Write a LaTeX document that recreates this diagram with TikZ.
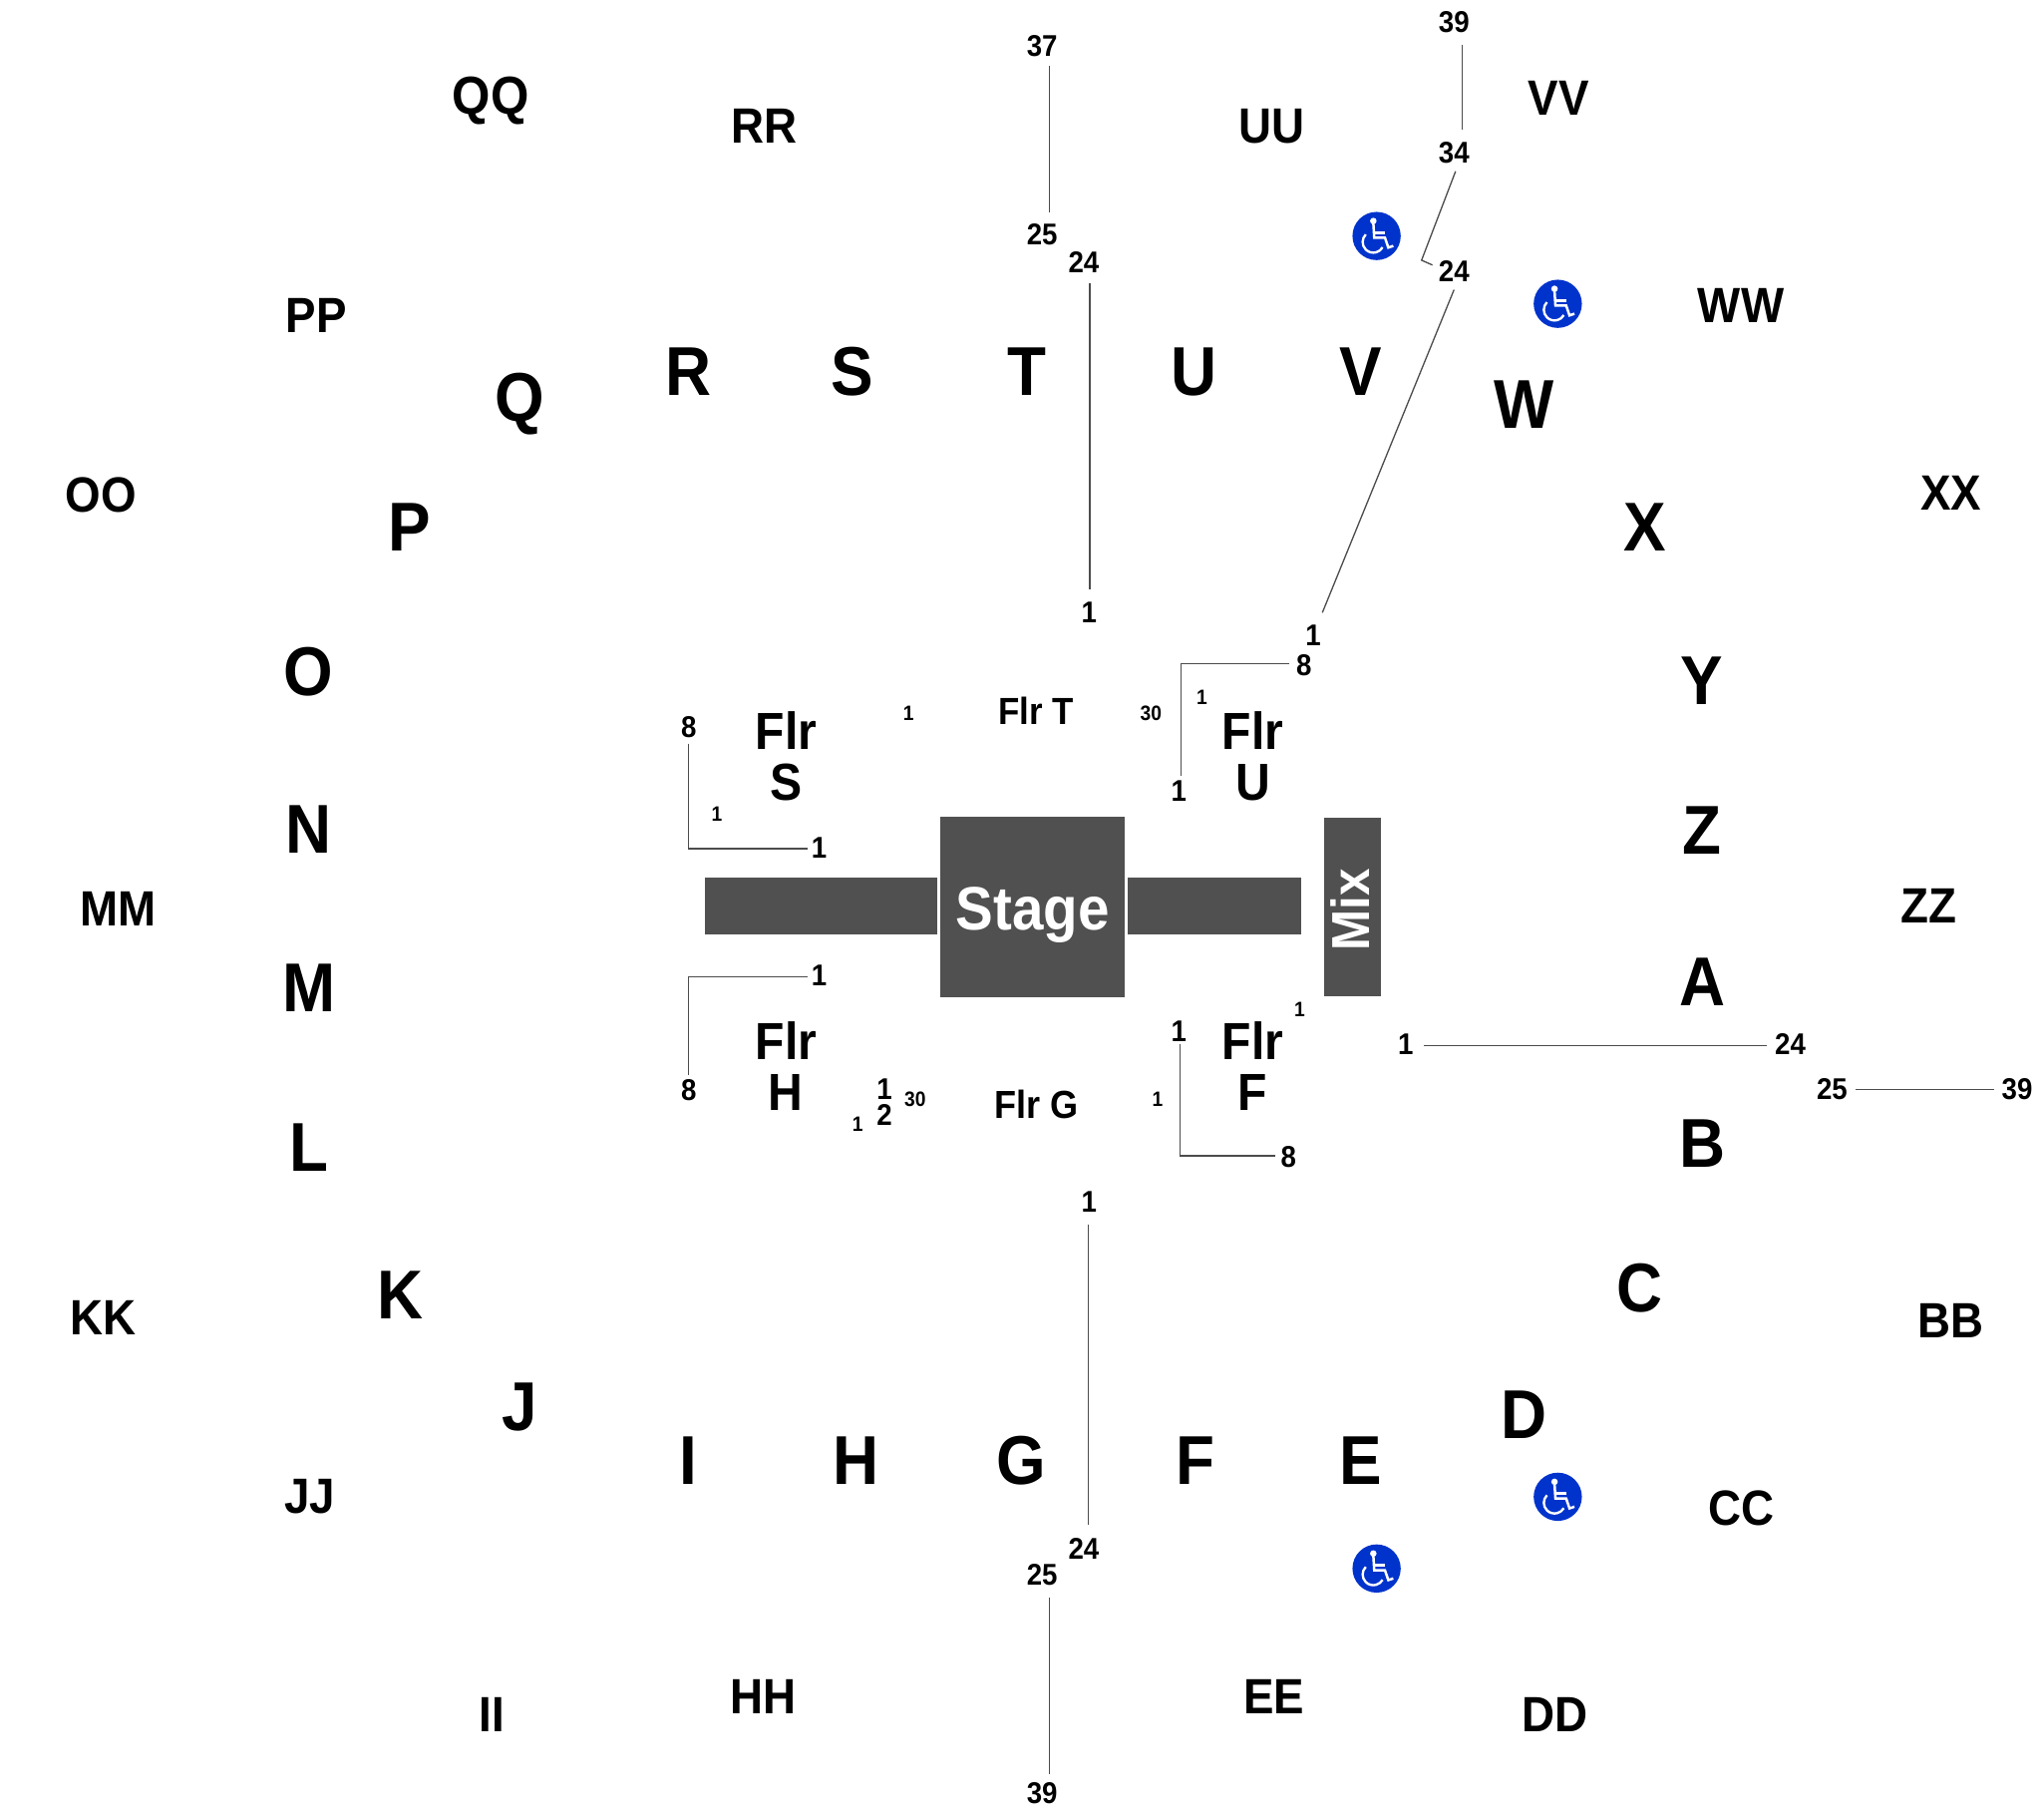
\documentclass[tikz,border=0pt]{standalone}
\usepackage{fontspec}
\setmainfont[FakeStretch=0.92]{Liberation Sans}
\usepackage{xcolor}
\usepackage{tikz}
\definecolor{stagegray}{HTML}{505050}
\definecolor{accessblue}{HTML}{0033CC}
\tikzstyle{row} = [inner sep=0pt, xshift=.8pt, font=\fontsize{53}{53}\selectfont\bfseries]
\tikzstyle{section} = [inner sep=0pt, xshift=.5pt, font=\fontsize{38}{38}\selectfont\bfseries]
\tikzstyle{floorbig} = [inner sep=0pt, align=center, font=\fontsize{40}{39}\selectfont\bfseries]
\tikzstyle{floorsmall} = [inner sep=0pt, font=\fontsize{29}{29}\selectfont\bfseries]
\tikzstyle{seat} = [inner sep=0pt, xshift=.4pt, font=\fontsize{23}{23}\selectfont\bfseries]
\tikzstyle{seatsmall} = [inner sep=0pt, font=\fontsize{16}{16}\selectfont\bfseries]
\tikzstyle{block} = [inner sep=0pt, fill=stagegray, text=white, font=\fontsize{47}{47}\selectfont\bfseries]
\tikzstyle{access} = [circle, inner sep=0pt, minimum size=37pt, fill=accessblue]
\tikzstyle{line} = [draw=black!70, line width=1pt]
\tikzset{wheelchair/.pic={
	\fill [white] (-2.5,-11.5) circle (2.5pt);
	\draw [white, line width=1.9pt] (-2.5,-10) -- (-1.8,1.3) -- (6.4,1.3) -- (9,8.9) -- (12.8,7.6);
	\draw [white, line width=1.9pt] (-1.8,-2.5) -- (6.4,-2.5);
	\draw [white, line width=1.8pt] (-8.3,-1.2) arc [start angle=135, end angle=330, radius=8.2pt];
}}

\begin{document}
\begin{tikzpicture}[x=1pt, y=-1pt]
	\useasboundingbox (0,0) rectangle (1568,1390.5);

	% stage
	\node (bar1) [block, minimum width=178pt, minimum height=44pt] at (630,695) {};
	\node (bar2) [block, minimum width=133pt, minimum height=44pt] at (931.5,695) {};
	\node (stage) [block, minimum width=142pt, minimum height=138pt] at (792,695.5) {\raisebox{-17.5pt}[0pt][0pt]{Stage}};
	\node (mix) [block, minimum width=43.5pt, minimum height=137pt, font=\fontsize{41}{41}\selectfont\bfseries] at (1037.7,695.5) {\kern-2pt\raisebox{-33.5pt}[0pt][0pt]{\rotatebox{90}{Mix}}\kern2pt};

	% rows
	\node (rowR) [row] at (527,285) {R};
	\node (rowS) [row] at (653,285) {S};
	\node (rowT) [row] at (787,285) {T};
	\node (rowU) [row] at (915,285) {U};
	\node (rowV) [row] at (1043,285) {V};
	\node (rowQ) [row] at (398,310) {Q};
	\node (rowW) [row] at (1168,310) {W};
	\node (rowP) [row] at (313,404) {P};
	\node (rowX) [row] at (1261,404) {X};
	\node (rowO) [row] at (236,515) {O};
	\node (rowY) [row] at (1305,522) {Y};
	\node (rowN) [row] at (236,636) {N};
	\node (rowZ) [row] at (1305,637) {Z};
	\node (rowM) [row] at (236,758) {M};
	\node (rowA) [row] at (1305,753) {A};
	\node (rowL) [row] at (236,880) {L};
	\node (rowB) [row] at (1305,877) {B};
	\node (rowK) [row] at (306,993) {K};
	\node (rowC) [row] at (1257,988) {C};
	\node (rowJ) [row] at (398,1079) {J};
	\node (rowD) [row] at (1168,1085) {D};
	\node (rowI) [row] at (527,1120) {I};
	\node (rowH) [row] at (656,1120) {H};
	\node (rowG) [row] at (783,1120) {G};
	\node (rowF) [row] at (916,1120) {F};
	\node (rowE) [row] at (1043,1120) {E};

	% outer sections
	\node (secQQ) [section, font=\fontsize{41}{41}\selectfont\bfseries] at (376,77) {QQ};
	\node (secRR) [section] at (586,97) {RR};
	\node (secUU) [section] at (975,97) {UU};
	\node (secVV) [section] at (1195,75) {VV};
	\node (secPP) [section] at (242,242) {PP};
	\node (secWW) [section] at (1335,234) {WW};
	\node (secOO) [section] at (77,380) {OO};
	\node (secXX) [section] at (1496,378) {XX};
	\node (secMM) [section] at (90,697) {MM};
	\node (secZZ) [section] at (1479,695) {ZZ};
	\node (secKK) [section] at (79,1011) {KK};
	\node (secBB) [section] at (1496,1013) {BB};
	\node (secJJ) [section] at (237,1148) {JJ};
	\node (secCC) [section] at (1335,1157) {CC};
	\node (secII) [section] at (377,1315) {II};
	\node (secHH) [section] at (585,1301) {HH};
	\node (secEE) [section] at (977,1301) {EE};
	\node (secDD) [section] at (1192,1315) {DD};

	% floor
	\node (flrS) [floorbig] at (603,580) {Flr\\S};
	\node (flrU) [floorbig] at (961,580) {Flr\\U};
	\node (flrH) [floorbig] at (603,818) {Flr\\H};
	\node (flrF) [floorbig] at (961,818) {Flr\\F};
	\node (flrT) [floorsmall] at (795,545.5) {Flr T};
	\node (flrG) [floorsmall, font=\fontsize{30}{30}\selectfont\bfseries] at (795,847) {Flr G};

	% seat numbers
	\node (s37) [seat] at (799,35) {37};
	\node (s25a) [seat] at (799,180) {25};
	\node (s24a) [seat] at (831,201) {24};
	\node (s1a) [seat] at (835,470) {1};
	\node (s39a) [seat] at (1115,17) {39};
	\node (s34) [seat] at (1115,117) {34};
	\node (s24b) [seat] at (1115,208) {24};
	\node (s1b) [seat] at (1007,487) {1};
	\node (s8a) [seat] at (1000,510) {8};
	\node (s1c) [seat] at (904,607) {1};
	\node (s8b) [seat] at (528,558) {8};
	\node (s1d) [seat] at (628,650) {1};
	\node (s1e) [seat] at (628,748) {1};
	\node (s8c) [seat] at (528,836) {8};
	\node (s1f) [seat] at (678,835) {1};
	\node (s2f) [seat] at (678,855) {2};
	\node (s1g) [seat] at (904,791) {1};
	\node (s8d) [seat] at (988,887) {8};
	\node (s1h) [seat] at (835,922) {1};
	\node (s1i) [seat] at (1078,801) {1};
	\node (s24c) [seat] at (1373,801) {24};
	\node (s25b) [seat] at (1405,835) {25};
	\node (s39b) [seat] at (1547,835) {39};
	\node (s24d) [seat] at (831,1188) {24};
	\node (s25c) [seat] at (799,1208) {25};
	\node (s39c) [seat] at (799,1375) {39};

	\node (t1a) [seatsmall] at (922,535) {1};
	\node (t30a) [seatsmall] at (883,547) {30};
	\node (t1b) [seatsmall] at (697,547) {1};
	\node (t1c) [seatsmall] at (550,624) {1};
	\node (t30b) [seatsmall] at (702,843) {30};
	\node (t1d) [seatsmall] at (658,862) {1};
	\node (t1e) [seatsmall] at (888,843) {1};
	\node (t1f) [seatsmall] at (997,774) {1};

	% bends
	\coordinate (bend34) at (1090.5,199.6);
	\coordinate (bendU) at (905.9,509);
	\coordinate (bendS) at (528.4,651);
	\coordinate (bendH) at (528.4,749);
	\coordinate (bendF) at (905.4,886.5);

	\draw [line] ([xshift=5.6pt,yshift=-7pt]s37.south) -- ([xshift=5.6pt,yshift=9pt]s25a.north);
	\draw [line] ([xshift=4.6pt,yshift=-8pt]s24a.south) -- ([xshift=.6pt,yshift=10pt]s1a.north);
	\draw [line] ([xshift=6.1pt,yshift=-9pt]s39a.south) -- ([xshift=6.1pt,yshift=9pt]s34.north);
	\draw [line] ([xshift=1.2pt,yshift=-6pt]s34.south) -- (bend34) -- ([xshift=-4.6pt,yshift=-3.5pt]s24b.north west);
	\draw [line] ([yshift=-6pt]s24b.south) -- ([xshift=7pt,yshift=9pt]s1b.north);
	\draw [line] ([xshift=-5pt,yshift=1pt]s8a.west) -- (bendU) -- ([xshift=1.5pt,yshift=4pt]s1c.north);
	\draw [line] ([yshift=-4pt]s8b.south) -- (bendS) -- ([xshift=-3pt,yshift=-1pt]s1d.west);
	\draw [line] ([xshift=-3pt,yshift=-1pt]s1e.west) -- (bendH) -- ([yshift=3pt]s8c.north);
	\draw [line] ([xshift=1pt,yshift=-2pt]s1g.south) -- (bendF) -- ([xshift=-4pt,yshift=.5pt]s8d.west);
	\draw [line] ([xshift=8pt,yshift=-1pt]s1i.east) -- ([xshift=-6pt,yshift=-1pt]s24c.west);
	\draw [line] ([xshift=6pt,yshift=-.5pt]s25b.east) -- ([xshift=-6pt,yshift=-.5pt]s39b.west);
	\draw [line] ([xshift=-.4pt,yshift=-9pt]s1h.south) -- ([xshift=3.6pt,yshift=10pt]s24d.north);
	\draw [line] ([xshift=5.6pt,yshift=-9pt]s25c.south) -- ([xshift=5.6pt,yshift=6pt]s39c.north);

	% access
	\node (wc1) [access] at (1056,181) {};
	\node (wc2) [access] at (1195,233) {};
	\node (wc3) [access] at (1195,1148) {};
	\node (wc4) [access] at (1056,1203) {};
	\pic at (wc1) {wheelchair};
	\pic at (wc2) {wheelchair};
	\pic at (wc3) {wheelchair};
	\pic at (wc4) {wheelchair};
\end{tikzpicture}
\end{document}
